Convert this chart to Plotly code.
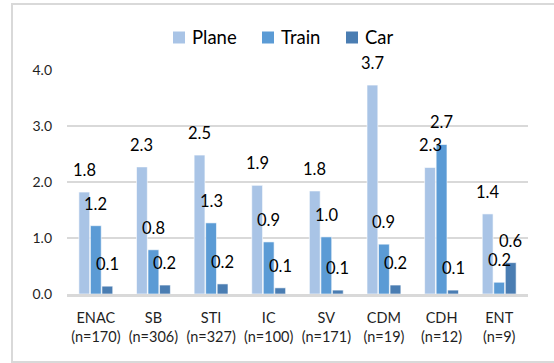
import plotly.graph_objects as go

# Travel distance per mode and school
categories = ["ENAC", "SB", "STI", "IC", "SV", "CDM", "CDH", "ENT"]
sample_sizes = [170, 306, 327, 100, 171, 19, 12, 9]
plane = [1.82, 2.27, 2.48, 1.94, 1.84, 3.73, 2.26, 1.43]
train = [1.22, 0.79, 1.27, 0.93, 1.02, 0.89, 2.67, 0.21]
car = [0.14, 0.16, 0.18, 0.11, 0.07, 0.16, 0.07, 0.56]
y_ticks = [0.0, 1.0, 2.0, 3.0, 4.0]

series = [("Plane", plane, "#A9C4E6"),
          ("Train", train, "#5B9BD5"),
          ("Car", car, "#4A7DB2")]

FONT = "Lato"
TEXT = "#1f1f1f"
GRID = "#d9d9d9"
BARGAP = 0.4

# plot-area geometry in pixels, used to place the legend keys in paper units
W, H = 554, 363
ML, MR, MT, MB = 67, 26, 70, 69
PW, PH = W - ML - MR, H - MT - MB


def px_x(px):
    return (px - ML) / PW


def px_y(py):
    return (H - MB - py) / PH


tick_text = [f"{c}<br>(n={n})" for c, n in zip(categories, sample_sizes)]
xs = list(range(len(categories)))

fig = go.Figure()
for name, vals, color in series:
    fig.add_trace(go.Bar(
        name=name, x=xs, y=vals, showlegend=False,
        marker=dict(color=color, line=dict(color="rgba(255,255,255,0.6)", width=1)),
    ))

# value labels above each bar
slot = (1 - BARGAP) / len(series)
annotations = []
for k, (name, vals, color) in enumerate(series):
    offset = (k - (len(series) - 1) / 2) * slot
    for i, v in enumerate(vals):
        annotations.append(dict(
            x=i + offset, y=v, xref="x", yref="y",
            text=f"{v:.1f}", showarrow=False,
            yanchor="bottom", xanchor="center", yshift=10,
            font=dict(family=FONT, size=16.5, color="#000000"),
        ))

# legend row: colour key + series name
shapes = []
key_left = [173, 262, 346]
for (name, vals, color), left in zip(series, key_left):
    shapes.append(dict(
        type="rect", xref="paper", yref="paper",
        x0=px_x(left), x1=px_x(left + 12), y0=px_y(43.5), y1=px_y(31.5),
        fillcolor=color, line=dict(width=0),
    ))
    annotations.append(dict(
        x=px_x(left + 17), y=px_y(37.5), xref="paper", yref="paper",
        text=name, showarrow=False, xanchor="left", yanchor="middle",
        font=dict(family=FONT, size=18.5, color="#000000"),
    ))

# chart frame
shapes.append(dict(
    type="rect", xref="paper", yref="paper",
    x0=px_x(12), x1=px_x(W + 8), y0=px_y(362), y1=px_y(4),
    line=dict(color=GRID, width=2), fillcolor="rgba(0,0,0,0)", layer="below",
))

fig.update_layout(
    width=W, height=H,
    margin=dict(l=ML, r=MR, t=MT, b=MB),
    paper_bgcolor="white", plot_bgcolor="white",
    barmode="group", bargap=BARGAP, bargroupgap=0.06,
    font=dict(family=FONT, color=TEXT),
    showlegend=False,
    annotations=annotations,
    shapes=shapes,
)

fig.update_xaxes(
    tickmode="array", tickvals=xs, ticktext=tick_text,
    range=[-0.5, len(categories) - 0.5],
    showline=True, linecolor=GRID, linewidth=2.5,
    showgrid=False, ticks="", ticklabelstandoff=9,
    tickfont=dict(family=FONT, size=14.5, color=TEXT),
)
fig.update_yaxes(
    range=[0, 4.0], tickmode="array", tickvals=y_ticks,
    tickformat=".1f", showgrid=True, gridcolor=GRID, gridwidth=1.5,
    zeroline=False, showline=False, ticks="", ticklabelstandoff=14,
    tickfont=dict(family=FONT, size=14, color=TEXT),
)

fig.write_html("out.html")
